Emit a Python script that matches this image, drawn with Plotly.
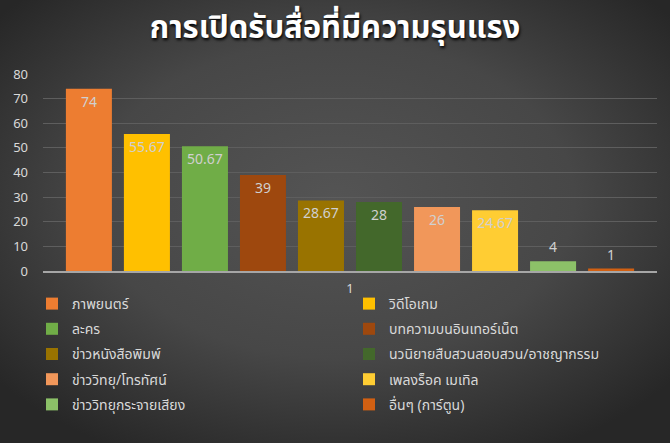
import base64
import plotly.graph_objects as go

# ---- data ----
category = ["1"]
series_names = [
    "ภาพยนตร์", "วิดีโอเกม", "ละคร", "บทความบนอินเทอร์เน็ต", "ข่าวหนังสือพิมพ์",
    "นวนิยายสืบสวนสอบสวน/อาชญากรรม", "ข่าววิทยุ/โทรทัศน์", "เพลงร็อค เมเทิล",
    "ข่าววิทยุกระจายเสียง", "อื่นๆ (การ์ตูน)",
]
series_values = [74, 55.67, 50.67, 39, 28.67, 28, 26, 24.67, 4, 1]
series_colors = [
    "#ED7D31", "#FFC000", "#70AD47", "#9E480E", "#997300",
    "#43682B", "#F1975A", "#FFCD33", "#8CC168", "#D26012",
]
title_text = "การเปิดรับสื่อที่มีความรุนแรง"

W, H = 670, 443
ML, MR, MT, MB = 43, 13, 74, 172
pw = W - ML - MR
ph = H - MT - MB

FONT = "Noto Sans Thai, Tahoma, Noto Sans, sans-serif"

svg = f"""<svg xmlns='http://www.w3.org/2000/svg' width='{W}' height='{H}' viewBox='0 0 {W} {H}' preserveAspectRatio='none'>
<defs><radialGradient id='g' cx='50%' cy='45%' r='65%'>
<stop offset='0%' stop-color='#545454'/><stop offset='55%' stop-color='#474747'/><stop offset='100%' stop-color='#272727'/>
</radialGradient></defs><rect width='{W}' height='{H}' fill='url(#g)'/></svg>"""
bg_uri = "data:image/svg+xml;base64," + base64.b64encode(svg.encode()).decode()

fig = go.Figure()
for i, (name, val, col) in enumerate(zip(series_names, series_values, series_colors)):
    small = val < 10
    fig.add_trace(go.Bar(
        x=category, y=[val], name=name,
        legend="legend" if i % 2 == 0 else "legend2",
        legendgroup=f"g{i}",
        marker=dict(color=col, line=dict(width=0)),
        text=[f"{val:g}"],
        textposition="outside" if small else "inside",
        insidetextanchor="end",
        constraintext="none",
        textfont=dict(family=FONT, size=14, color="#D0D0D0"),
        cliponaxis=False,
    ))


def px_x(p):
    return (p - ML) / pw


def px_y(p):
    return (H - MB - p) / ph


legend_common = dict(
    orientation="v", yanchor="top", xanchor="left", tracegroupgap=4,
    font=dict(family=FONT, size=14, color="#D9D9D9"),
    bgcolor="rgba(0,0,0,0)", borderwidth=0, traceorder="grouped",
)

fig.update_layout(
    width=W, height=H,
    margin=dict(l=ML, r=MR, t=MT, b=MB, pad=0, autoexpand=False),
    paper_bgcolor="#3c3c3c",
    plot_bgcolor="rgba(0,0,0,0)",
    barmode="group", bargap=0.055, bargroupgap=0.207,
    title=dict(text=title_text, x=0.5, xanchor="center", y=1 - 27 / H, yanchor="middle",
               font=dict(family=FONT, size=31, color="#FFFFFF", weight="bold",
                         shadow="1px 2px 3px #000000")),
    font=dict(family=FONT, color="#D9D9D9"),
    showlegend=True,
    legend=dict(x=px_x(32), y=px_y(288), **legend_common),
    legend2=dict(x=px_x(349), y=px_y(288), **legend_common),
    images=[dict(source=bg_uri, xref="paper", yref="paper",
                 x=-ML / pw, y=1 + MT / ph, sizex=W / pw, sizey=H / ph,
                 xanchor="left", yanchor="top", sizing="stretch", layer="below")],
)
fig.update_xaxes(showline=True, linecolor="#A6A6A6", linewidth=2, showgrid=False,
                 ticks="", ticklabelstandoff=4,
                 tickfont=dict(family=FONT, size=13, color="#D9D9D9"),
                 fixedrange=True)
fig.update_yaxes(range=[0, 80], dtick=10, showgrid=True, gridcolor="#5E5E5E", gridwidth=1,
                 zeroline=False, showline=False, ticks="", ticklabelstandoff=14,
                 tickfont=dict(family=FONT, size=13, color="#D9D9D9"))

fig.write_html("out.html", config={"displayModeBar": False},
               post_script="document.body.style.margin='0';document.body.style.overflow='hidden';")
